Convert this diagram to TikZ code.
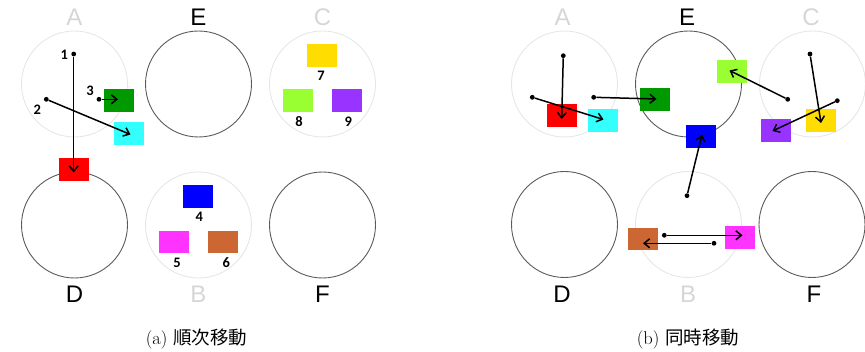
\documentclass[tikz,border=0pt]{standalone}
\usepackage{fontspec}
\usetikzlibrary{arrows.meta}
\newfontfamily\labfont{Liberation Sans}
\newfontfamily\numfont{Carlito}
\newfontfamily\cjk{Noto Sans CJK JP}
\definecolor{faint}{HTML}{E6E6E6}
\definecolor{faintlab}{HTML}{D6D6D6}
\definecolor{ring}{HTML}{5A5A5A}
\definecolor{cRed}{HTML}{FF0000}
\definecolor{cCyan}{HTML}{33FFFF}
\definecolor{cGreen}{HTML}{009900}
\definecolor{cYellow}{HTML}{FFDD00}
\definecolor{cLime}{HTML}{99FF33}
\definecolor{cPurple}{HTML}{9933FF}
\definecolor{cBlue}{HTML}{0000FF}
\definecolor{cMagenta}{HTML}{FF33FF}
\definecolor{cBrown}{HTML}{CC6633}
\tikzset{
  stand/.style={circle, draw=ring, line width=0.9pt, minimum size=106pt, inner sep=0pt},
  ghost/.style={circle, draw=faint, line width=0.9pt, minimum size=106pt, inner sep=0pt},
  disc/.style={rectangle, minimum width=30pt, minimum height=22.7pt, inner sep=0pt},
  darklab/.style={anchor=base, font=\labfont\fontsize{24}{24}\selectfont, text=black},
  lightlab/.style={anchor=base, font=\labfont\fontsize{24}{24}\selectfont, text=faintlab},
  idx/.style={anchor=base, font=\numfont\bfseries\fontsize{14.5}{14.5}\selectfont},
  dot/.style={circle, fill=black, inner sep=0pt, minimum size=4.8pt},
  move/.style={-{Straight Barb[length=5.5pt,width=9pt,line width=1.5pt]}, line width=1.5pt},
  subcap/.style={anchor=base, font=\fontsize{18.5}{18.5}\selectfont}
}
\begin{document}
\begin{tikzpicture}[x=1pt, y=-1pt]
\useasboundingbox (0,0) rectangle (865,352);

% ---------- (a) sequential moves ----------
\node[ghost]  (aA) at (74.5,84) {};
\node[stand]  (aE) at (198.5,84) {};
\node[ghost]  (aC) at (322.5,84) {};
\node[stand]  (aD) at (74.5,225) {};
\node[ghost]  (aB) at (198.5,225) {};
\node[stand]  (aF) at (322.5,225) {};

\node[lightlab] (laA) at (74.5,26) {A};
\node[darklab]  (laE) at (198.5,26) {E};
\node[lightlab] (laC) at (322.5,26) {C};
\node[darklab]  (laD) at (74.5,302.5) {D};
\node[lightlab] (laB) at (198.5,302.5) {B};
\node[darklab]  (laF) at (322.5,302.5) {F};

\node[disc, fill=cGreen]   (a3) at (118.8,100.3) {};
\node[disc, fill=cCyan]    (a2) at (129,133.3) {};
\node[disc, fill=cRed]     (a1) at (73.5,169.5) {};
\node[disc, fill=cYellow]  (a7) at (321.7,55.3) {};
\node[disc, fill=cLime]    (a8) at (297.7,100.3) {};
\node[disc, fill=cPurple]  (a9) at (347.3,100.3) {};
\node[disc, fill=cBlue]    (a4) at (197.5,196.7) {};
\node[disc, fill=cMagenta] (a5) at (173.5,242) {};
\node[disc, fill=cBrown]   (a6) at (223,242) {};

\node[idx] (n1) at (64.3,60) {1};
\node[idx] (n2) at (37.3,115) {2};
\node[idx] (n3) at (90,95.5) {3};
\node[idx] (n7) at (321,80.5) {7};
\node[idx] (n8) at (299,126.5) {8};
\node[idx] (n9) at (348.3,126.5) {9};
\node[idx] (n4) at (199.3,221.5) {4};
\node[idx] (n5) at (177,267.5) {5};
\node[idx] (n6) at (226.3,267.5) {6};

\node[dot] (s1) at (73.7,54) {};
\node[dot] (s2) at (46.3,99.3) {};
\node[dot] (s3) at (99,99.3) {};
\coordinate (t1) at (73.7,172.5);
\coordinate (t2) at (130.5,134.5);
\coordinate (t3) at (118,99.3);
\draw[move] (s1) -- (t1);
\draw[move] (s2) -- (t2);
\draw[move] (s3) -- (t3);

\node[subcap] (capa) at (196.5,344.5) {(a) {\cjk 順次移動}};

% ---------- (b) simultaneous moves ----------
\node[ghost]  (bA) at (564.5,84) {};
\node[stand]  (bE) at (688.5,84) {};
\node[ghost]  (bC) at (812.5,84) {};
\node[stand]  (bD) at (564.5,224.5) {};
\node[ghost]  (bB) at (688.5,224.5) {};
\node[stand]  (bF) at (812,224.5) {};

\node[lightlab] (lbA) at (562.5,26) {A};
\node[darklab]  (lbE) at (687,26) {E};
\node[lightlab] (lbC) at (811,26) {C};
\node[darklab]  (lbD) at (562,302.5) {D};
\node[lightlab] (lbB) at (688,302.5) {B};
\node[darklab]  (lbF) at (814,302.5) {F};

\node[disc, fill=cRed]     (b1) at (562.3,115.5) {};
\node[disc, fill=cCyan]    (b2) at (602.5,120.2) {};
\node[disc, fill=cGreen]   (b3) at (655.3,99.2) {};
\node[disc, fill=cLime]    (b8) at (732.3,71.7) {};
\node[disc, fill=cBlue]    (b4) at (700.7,136.7) {};
\node[disc, fill=cPurple]  (b9) at (775.8,130.5) {};
\node[disc, fill=cYellow]  (b7) at (820.7,120.2) {};
\node[disc, fill=cBrown]   (b6) at (643.3,239) {};
\node[disc, fill=cMagenta] (b5) at (739.7,237.7) {};

\node[dot] (u1) at (563.3,55.7) {};
\node[dot] (u2) at (532.3,97.3) {};
\node[dot] (u3) at (593.7,97.3) {};
\node[dot] (u8) at (787.7,99.3) {};
\node[dot] (u7) at (810,54) {};
\node[dot] (u9) at (837.3,100.7) {};
\node[dot] (u4) at (687,195.7) {};
\node[dot] (u5) at (664.3,235.3) {};
\node[dot] (u6) at (714,243.3) {};
\coordinate (v1) at (561.7,119);
\coordinate (v2) at (603.5,119.5);
\coordinate (v3) at (656.5,99);
\coordinate (v8) at (729.5,70.5);
\coordinate (v7) at (821,123);
\coordinate (v9) at (772.5,131);
\coordinate (v4) at (702,134.5);
\coordinate (v5) at (742.5,235.3);
\coordinate (v6) at (643,243.3);
\draw[move] (u1) -- (v1);
\draw[move] (u2) -- (v2);
\draw[move] (u3) -- (v3);
\draw[move] (u8) -- (v8);
\draw[move] (u7) -- (v7);
\draw[move] (u9) -- (v9);
\draw[move] (u4) -- (v4);
\draw[move] (u5) -- (v5);
\draw[move] (u6) -- (v6);

\node[subcap] (capb) at (688,344.5) {(b) {\cjk 同時移動}};
\end{tikzpicture}
\end{document}
